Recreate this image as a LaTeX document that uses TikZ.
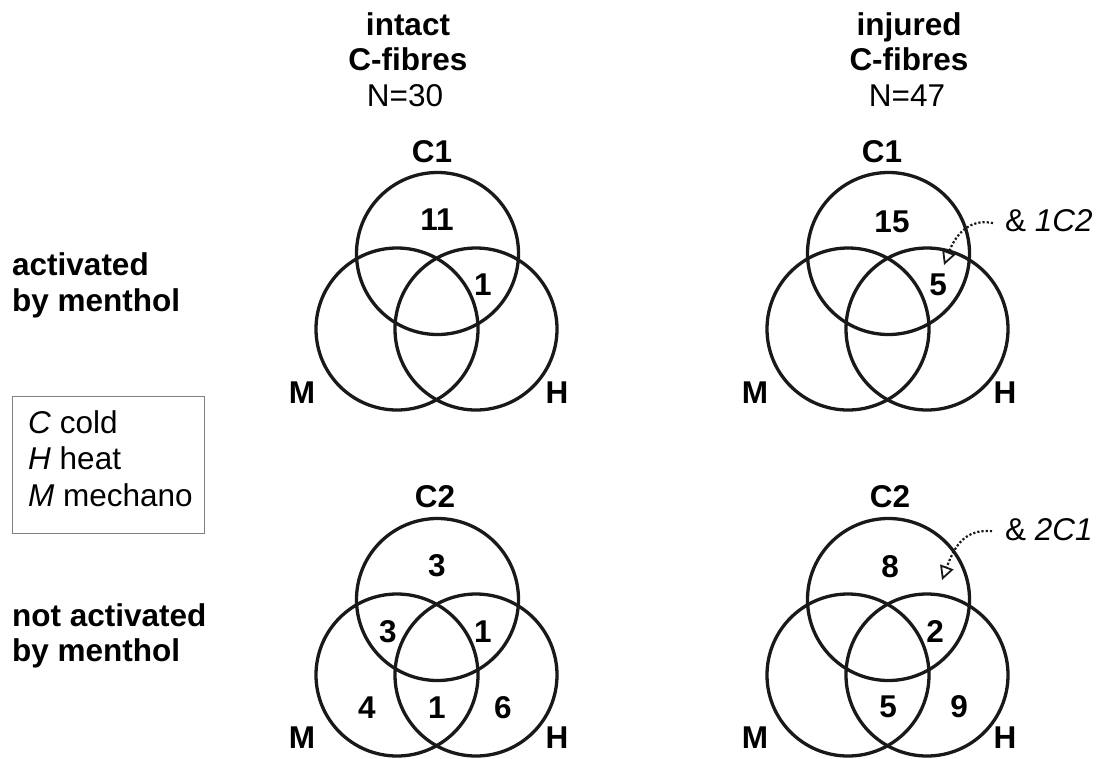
\documentclass[tikz,border=0pt]{standalone}
\usepackage{fontspec}
\setmainfont{Liberation Sans}
\usetikzlibrary{arrows.meta}
\begin{document}
\begin{tikzpicture}[x=1pt,y=-1pt,
  every node/.style={inner sep=0pt, font=\fontsize{31.5}{36}\selectfont},
  lbl/.style={anchor=base, font=\fontsize{31.5}{36}\selectfont\bfseries},
  txt/.style={anchor=base, font=\fontsize{31.5}{36}\selectfont},
  side/.style={anchor=base west, font=\fontsize{31.5}{36}\selectfont\bfseries},
  venn/.style={line width=3.3pt, black!90},
  note/.style={dotted, line width=2.2pt, black!90, -{Triangle[open, length=14pt, width=14pt, line width=1.8pt]}}
]
\useasboundingbox (0,0) rectangle (1100,758);

% headers
\node[lbl] (h1a) at (408,35) {intact};
\node[lbl] (h1b) at (408,70) {C-fibres};
\node[txt] (n1) at (405,106) {N=30};
\node[lbl] (h2a) at (909,35) {injured};
\node[lbl] (h2b) at (909,70) {C-fibres};
\node[txt] (n2) at (907,106) {N=47};

% side labels
\node[side] (s1a) at (12,275) {activated};
\node[side] (s1b) at (12,311) {by menthol};
\node[side] (s2a) at (12,626) {not activated};
\node[side] (s2b) at (12,661) {by menthol};

% legend
\node[draw=gray, line width=1pt, minimum width=192pt, minimum height=137pt, anchor=north west] (legend) at (12,396) {};
\node[anchor=base west] (lc) at (28,433) {\textit{C} cold};
\node[anchor=base west] (lh) at (28,469) {\textit{H} heat};
\node[anchor=base west] (lm) at (28,506) {\textit{M} mechano};

% Venn circles
\foreach \dx/\dy in {0/0, 451/0, 0/346, 451/346}{
  \draw[venn] (437.5+\dx,253.5+\dy) circle[radius=81pt];
  \draw[venn] (397+\dx,329+\dy) circle[radius=81pt];
  \draw[venn] (476+\dx,329+\dy) circle[radius=81pt];
}

% top-left
\node[lbl] (tlC) at (432,162) {C1};
\node[lbl] (tlM) at (302,403) {M};
\node[lbl] (tlH) at (557,403) {H};
\node[lbl] (tl1) at (437,230) {11};
\node[lbl] (tl2) at (483,295) {1};

% top-right
\node[lbl] (trC) at (882,162) {C1};
\node[lbl] (trM) at (755,403) {M};
\node[lbl] (trH) at (1005,403) {H};
\node[lbl] (tr1) at (892,232) {15};
\node[lbl] (tr2) at (938,295) {5};
\node[anchor=base west] (trn) at (1005,231) {\& \textit{1C2}};
\coordinate (trtip) at (944,265);
\draw[note] (trn.west) ++(-12pt,-3pt) .. controls (975,219) and (958,228) .. (trtip);

% bottom-left
\node[lbl] (blC) at (435,507) {C2};
\node[lbl] (blM) at (302,748) {M};
\node[lbl] (blH) at (557,748) {H};
\node[lbl] (bl1) at (437,576) {3};
\node[lbl] (bl2) at (388,642) {3};
\node[lbl] (bl3) at (483,642) {1};
\node[lbl] (bl4) at (367,718) {4};
\node[lbl] (bl5) at (437,718) {1};
\node[lbl] (bl6) at (503,718) {6};

% bottom-right
\node[lbl] (brC) at (890,507) {C2};
\node[lbl] (brM) at (755,748) {M};
\node[lbl] (brH) at (1005,748) {H};
\node[lbl] (br1) at (890,577) {8};
\node[lbl] (br2) at (935,642) {2};
\node[lbl] (br3) at (888,717) {5};
\node[lbl] (br4) at (959,717) {9};
\node[anchor=base west] (brn) at (1005,540) {\& \textit{2C1}};
\coordinate (brtip) at (942,580);
\draw[note] (brn.west) ++(-13pt,-2pt) .. controls (965,529) and (955,545) .. (brtip);
\end{tikzpicture}
\end{document}
